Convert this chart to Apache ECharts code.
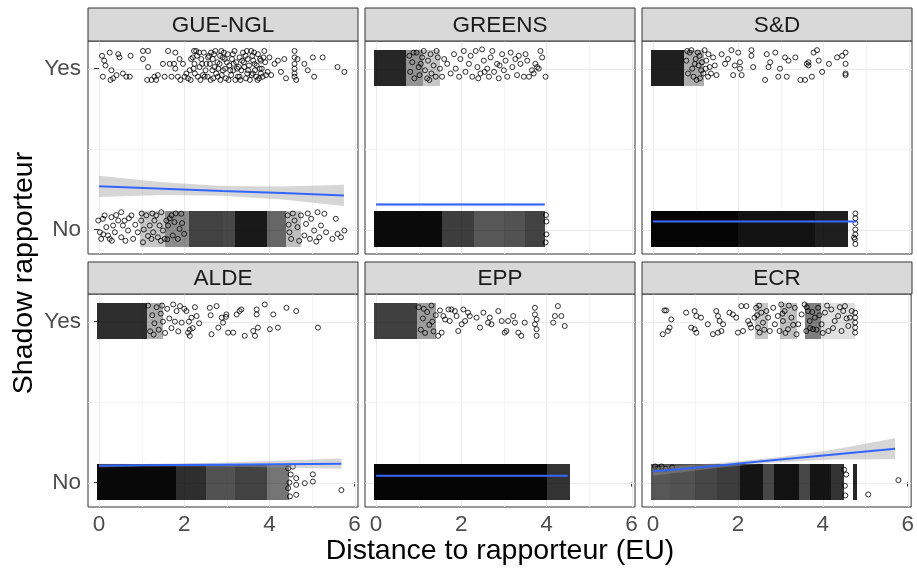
<!DOCTYPE html>
<html><head><meta charset="utf-8">
<script src="https://cdn.jsdelivr.net/npm/echarts@6/dist/echarts.min.js"></script>
<style>html,body{margin:0;padding:0;background:#fff}#c{width:917px;height:574px}</style>
</head><body><div id="c"></div>
<script>
// ---------------- DATA ----------------
const PANELS = ['GUE-NGL','GREENS','S&D','ALDE','EPP','ECR'];
const X_TICKS = [0,2,4,6];
const X_MINOR = [1,3,5];
const Y_TICK_VALUES = [0,1];
const Y_MINOR = [0.5];
const Y_TICK_LABELS = ['No','Yes'];
const X_TITLE = 'Distance to rapporteur (EU)';
const Y_TITLE = 'Shadow rapporteur';

// jittered points [distance, jittered outcome]
const gueYes = [[0.07,1.08],[0.12,1.05],[0.15,1.02],[0.09,0.95],[0.25,1.1],[0.29,0.99],[0.33,0.94],[0.27,0.93],[0.45,1.09],[0.48,1.07],[0.41,0.96],[0.56,0.97],[0.64,0.95],[0.72,0.95],[0.74,1.08],
[1.03,1.11],[1.15,1.11],[1.03,1.06],[1.15,1.01],[1.13,0.93],[1.23,0.93],[1.34,0.93],[1.30,0.95],[1.38,0.96],[1.50,1.03],[1.54,0.95],[1.62,1.11],[1.66,1.03],[1.70,0.95],[1.76,1.03],[1.79,1.0],[1.79,1.1],[1.85,0.95],[1.89,1.06],[1.91,0.93],[1.97,1.03],[2.01,0.95],[2.05,0.97],[2.09,0.94],[2.13,0.99],[2.16,1.06],[2.20,1.07],[2.23,1.11],[2.24,1.03],[2.28,1.11],[2.32,0.95],[2.36,1.01],[2.40,1.06],[2.44,0.96],[2.52,1.03],[2.55,0.95],[2.63,1.1],[2.67,1.06],[2.71,1.01],[2.75,0.97],[2.79,0.95],[2.83,1.03],[2.87,1.11],[2.91,0.99],[2.95,1.06],[2.98,0.94],[3.02,1.09],[3.06,1.02],[3.10,0.96],[3.18,1.11],[3.22,1.04],[3.26,0.95],[3.30,1.07],[3.34,0.99],[3.38,1.1],[3.41,1.01],[3.45,0.94],[3.49,1.06],[3.57,1.11],[3.61,0.97],[3.65,1.03],[3.69,0.95],[3.73,1.09],[3.77,1.0],[3.80,1.05],[3.84,0.95],[3.88,1.11],[3.96,0.98],[4.0,1.07],[4.04,0.96],[4.12,1.03],[4.20,1.05],[4.27,0.98],[4.35,1.06],[4.39,0.94],[4.59,1.11],[4.59,1.07],[4.59,1.03],[4.59,1.0],[4.59,0.97],[4.59,0.95],[4.63,0.93],[4.66,1.06],[4.82,1.03],[4.90,0.99],[5.02,1.07],[5.05,0.95],[5.25,1.07],[5.60,1.01],[5.76,0.98],
[2.15,0.93],[2.22,1.0],[2.3,1.08],[2.38,0.93],[2.46,1.1],[2.5,0.99],[2.6,1.03],[2.62,0.93],[2.7,1.09],[2.78,1.04],[2.85,0.93],[2.9,1.07],[2.96,1.0],[3.04,0.93],[3.12,1.06],[3.15,0.99],[3.2,0.93],[3.28,1.01],[3.32,0.93],[3.36,1.05],[3.44,1.08],[3.5,0.99],[3.54,0.93],[3.6,1.08],[3.66,0.99],[3.72,0.93],[3.78,1.06],[3.82,1.0],[3.9,1.04],[3.62,1.05],
[2.25,0.97],[2.35,1.1],[2.42,1.03],[2.48,0.95],[2.58,1.08],[2.66,0.99],[2.73,1.11],[2.8,1.0],[2.88,0.96],[2.93,1.1],[3.0,1.04],[3.08,0.99],[3.14,1.09],[3.24,1.0],[3.3,0.95],[3.4,1.04],[3.47,1.11],[3.52,1.02],[3.58,0.96],[3.64,1.1],[3.7,1.02],[3.76,0.94],[3.86,1.07],[3.92,0.96],[2.56,1.07],[2.84,1.08],[3.16,1.03],[3.48,0.97],[3.8,0.97],[2.68,0.94]];
const gueNo = [[-0.02,0.056],[0.02,-0.017],[0.05,-0.058],[0.09,0.067],[0.13,0.088],[0.17,0.015],[0.21,-0.037],[0.25,-0.058],[0.29,0.077],[0.33,0.025],[0.37,-0.017],[0.45,0.056],[0.52,0.108],[0.52,-0.048],[0.56,0.025],[0.6,0.056],[0.68,-0.006],[0.76,0.088],[0.8,-0.058],[0.91,-0.017],[0.99,0.056],[1.03,-0.079],[1.11,0.088],[1.19,0.025],[1.23,-0.058],[1.27,-0.017],[1.3,0.056],[1.34,0.088],[1.38,-0.048],[1.42,0.025],[1.46,0.108],[1.5,-0.006],[1.54,-0.058],[1.58,0.056],[1.62,0.025],[1.7,0.088],[1.73,-0.037],[1.77,0.046],[1.85,-0.058],[1.89,0.004],[1.93,0.098],[2.0,-0.027],
[0.1,-0.03],[0.4,0.09],[0.62,-0.07],[0.85,0.03],[1.05,0.0],[1.15,-0.04],[1.25,0.1],[1.45,-0.07],[1.6,-0.06],[1.66,0.07],[1.8,0.1],[1.95,0.04],[1.0,0.1],[0.7,0.07],[0.3,-0.07],
[4.43,0.088],[4.47,-0.017],[4.51,-0.058],[4.59,0.056],[4.66,0.015],[4.74,0.088],[4.82,-0.037],[4.86,0.035],[4.95,-0.058],[4.98,0.067],[5.05,-0.006],[5.13,0.108],[5.17,-0.048],[5.21,0.025],[5.29,0.098],[5.33,-0.017],[5.48,-0.058],[5.56,0.067],[5.6,-0.027],[5.68,-0.048],[5.76,-0.006],[4.45,0.03],[4.55,0.1],[4.7,-0.07],[4.9,0.1],[5.1,-0.075]];
const greensYes = [[1.67,1.03],[1.75,0.97],[1.83,1.09],[1.87,1.0],[1.95,0.95],[1.98,1.06],[2.06,1.11],[2.1,0.98],[2.18,1.03],[2.22,1.08],[2.26,0.95],[2.34,1.11],[2.38,1.01],[2.45,0.97],[2.49,1.12],[2.53,1.05],[2.61,1.0],[2.65,0.95],[2.69,1.07],[2.73,1.11],[2.77,0.98],[2.84,1.03],[2.88,0.94],[2.96,1.09],[3.0,0.99],[3.04,1.05],[3.08,0.95],[3.16,1.1],[3.2,1.01],[3.27,1.06],[3.31,0.96],[3.39,1.03],[3.47,0.95],[3.51,1.09],[3.55,1.05],[3.59,0.95],[3.66,0.99],[3.74,1.03],[3.78,1.01],[3.82,1.0],[3.86,1.11],[3.9,1.07],[3.98,0.95],[2.4,0.94],[2.55,0.98],[2.9,1.02],[3.35,1.08],[3.7,0.97],
[0.78,1.08],[0.8,0.98],[0.85,1.04],[0.9,0.94],[0.95,1.1],[1.0,1.01],[1.02,0.96],[1.08,1.07],[1.12,1.11],[1.15,0.99],[1.2,0.94],[1.22,1.05],[1.28,1.09],[1.3,0.97],[1.35,1.02],[1.4,0.95],[1.45,1.07],[1.5,1.0],[1.55,0.95],[1.6,1.06],[1.25,0.93],[1.05,1.03],[0.88,1.1],[1.42,1.11]];
const greensNo = [[4.0,0.05],[4.0,-0.03],[3.99,0.09],[3.98,-0.08]];
const sdYes = [[0.9,1.115],[0.98,1.03],[1.02,0.93],[1.09,1.08],[1.13,0.99],[1.21,1.115],[1.25,1.05],[1.29,0.95],[1.33,1.01],[1.41,1.07],[1.49,0.96],[1.61,1.09],[1.69,1.03],[1.76,1.06],[1.84,1.115],[1.88,0.96],[1.92,1.02],[2.0,1.1],[2.04,1.04],[2.08,0.96],[2.31,1.115],[2.31,1.08],[2.35,1.01],[2.63,0.93],[2.67,1.09],[2.71,1.01],[2.75,1.04],[2.87,1.1],[2.94,0.95],[2.98,1.0],[3.10,1.07],[3.14,0.95],[3.18,1.05],[3.34,1.07],[3.46,0.93],[3.57,0.93],[3.61,1.03],[3.65,1.04],[3.73,0.95],[3.77,1.1],[3.85,1.115],[3.89,1.05],[3.97,0.98],[4.13,1.03],[4.32,1.07],[4.44,1.08],[4.52,1.1],[4.52,1.03],[4.52,0.97],[4.52,0.96],[3.65,1.02],[2.04,1.0],
[0.78,1.05],[0.82,0.97],[0.86,1.1],[0.92,1.0],[0.95,0.95],[1.0,1.06],[1.05,1.1],[1.1,0.94],[1.15,1.04],[1.18,0.97],[1.24,1.0],[1.3,1.09],[1.36,0.97],[1.45,1.02],[0.8,1.11],[1.07,1.02]];
const sdNo = [[4.75,0.1],[4.75,0.07],[4.75,0.04],[4.75,0.0],[4.75,-0.03],[4.74,-0.06],[4.75,-0.09],[4.72,-0.05]];
const aldeYes = [[1.74,1.107],[1.82,1.066],[1.9,1.097],[1.94,0.994],[2.05,1.066],[2.09,0.932],[2.13,0.912],[2.17,1.025],[2.29,1.035],[2.6,1.086],[2.64,0.922],[2.76,1.097],[2.8,0.963],[2.88,1.025],[2.91,0.994],[2.99,1.045],[3.03,0.932],[3.15,0.932],[3.23,1.045],[3.3,1.066],[3.34,1.076],[3.42,0.912],[3.62,0.942],[3.66,0.912],[3.7,1.076],[3.7,1.045],[3.73,0.963],[3.89,1.107],[4.01,0.953],[4.09,1.045],[4.2,0.963],[4.4,1.086],[4.63,1.066],[5.14,0.963],[2.11,1.0],[2.13,0.95],[2.62,1.04],[2.98,1.03],
[1.15,1.1],[1.2,0.94],[1.25,1.04],[1.3,0.99],[1.35,1.09],[1.4,0.95],[1.45,1.05],[1.5,1.0],[1.55,0.93],[1.6,1.08],[1.65,1.02],[1.7,0.96],[1.78,1.0],[1.86,0.94],[2.0,1.08],[2.2,0.96],[2.25,1.09],[2.35,0.99],[1.28,0.92],[1.48,1.1]];
const aldeNo = [[4.55,0.099],[4.63,0.027],[4.63,-0.014],[4.63,-0.076],[4.83,-0.004],[5.02,0.006],[5.02,0.051],[5.69,-0.047],[4.44,0.088],[4.44,-0.035],[4.48,-0.086],[4.5,0.05],[4.47,0.0]];
const eppYes = [[1.46,0.912],[1.54,0.932],[1.58,1.035],[1.62,1.014],[1.7,1.076],[1.73,1.004],[1.77,1.076],[1.85,1.066],[1.89,1.035],[1.93,0.942],[2.01,0.984],[2.05,1.076],[2.09,1.004],[2.16,1.056],[2.2,1.035],[2.36,1.025],[2.44,0.963],[2.52,1.056],[2.63,0.994],[2.67,1.025],[2.71,0.984],[2.87,1.066],[2.95,1.004],[3.02,0.932],[3.06,0.942],[3.1,1.004],[3.22,1.035],[3.26,0.994],[3.34,0.932],[3.41,0.912],[3.49,0.994],[3.73,1.086],[3.73,1.045],[3.73,0.984],[3.77,0.953],[3.77,0.912],[3.77,1.014],[4.16,0.994],[4.2,1.035],[4.27,1.097],[4.35,1.035],[4.43,0.973],
[1.0,1.09],[1.05,0.95],[1.1,1.02],[1.15,0.93],[1.2,1.06],[1.25,0.98],[1.3,1.1],[1.35,0.94],[1.4,1.04],[1.12,1.08],[1.32,1.0],[1.5,1.07]];
const eppNo = [];
const ecrYes = [[0.23,0.922],[0.27,1.07],[0.31,1.07],[0.35,0.942],[0.39,0.963],[0.43,1.014],[0.78,1.056],[0.98,1.066],[1.02,1.035],[0.9,0.963],[0.98,0.953],[1.02,0.932],[1.13,1.025],[1.29,0.984],[1.41,0.922],[1.53,0.932],[1.61,0.942],[1.49,1.066],[1.53,1.035],[1.57,1.004],[1.65,0.984],[1.8,1.056],[1.88,1.045],[1.96,1.025],[2.0,0.932],[2.08,1.097],[2.12,0.942],[2.2,1.097],[2.24,1.004],[2.28,0.984],[2.31,0.963],[2.39,1.025],[2.43,1.086],[2.47,0.963],[2.51,0.932],[2.55,1.056],[2.59,0.994],[2.67,1.066],[2.71,1.025],[2.75,0.942],[2.83,1.086],[2.87,0.984],[2.94,1.035],[2.98,0.942],[3.02,1.107],[3.06,1.004],[3.1,1.066],[3.18,0.953],[3.26,1.025],[3.34,1.086],[3.38,0.922],[3.42,0.984],[3.5,1.045],[3.57,1.107],[3.61,0.942],[3.65,1.066],[3.69,1.004],[3.77,0.953],[3.81,1.025],[3.89,1.086],[3.97,0.984],[4.05,1.056],[4.13,0.942],[4.2,1.076],[4.28,1.004],[4.36,1.035],[4.44,0.942],[4.48,1.066],[4.52,1.097],[4.6,0.973],[4.64,1.025],[4.68,1.066],[4.76,1.056],[4.76,1.025],[4.76,0.994],[4.76,0.963],[4.76,0.932],
[2.45,1.04],[2.5,1.1],[2.62,0.95],[3.05,1.05],[3.12,0.93],[3.2,1.1],[3.3,0.98],[3.62,1.09],[3.7,0.96],[3.75,1.06],[3.85,0.95],[3.92,1.04],[4.0,0.93],[4.1,1.1],[4.24,0.96],[4.4,1.09],[4.56,1.02]];
const ecrNo = [[5.07,-0.074],[5.78,0.015],[0.05,0.1],[0.12,0.09],[0.2,0.1],[0.3,0.085],[0.45,0.095],[4.5,0.08],[4.52,-0.02],[4.55,0.05],[4.53,-0.08]];

// dense regions of overlapping points: [from, to, share of the band covered in black]
const gueYesDense = [];
const gueNoDense = [[0.95,1.55,0.22],[1.55,2.1,0.45],[2.1,2.9,0.74],[2.9,3.2,0.72],[3.2,3.95,0.9],[3.95,4.4,0.6],[4.4,4.75,0.25]];
const greensYesDense = [[-0.05,0.7,0.85],[0.7,1.1,0.42],[1.1,1.5,0.22]];
const greensNoDense = [[-0.05,1.55,0.96],[1.55,2.3,0.76],[2.3,3.0,0.66],[3.0,3.5,0.68],[3.5,3.97,0.74]];
const sdYesDense = [[-0.05,0.72,0.88],[0.72,1.2,0.32]];
const sdNoDense = [[-0.04,2.0,0.98],[2.0,3.8,0.93],[3.8,4.57,0.88]];
const aldeYesDense = [[-0.05,1.12,0.82],[1.12,1.5,0.32]];
const aldeNoDense = [[-0.05,1.8,0.97],[1.8,2.5,0.82],[2.5,3.2,0.68],[3.2,3.95,0.74],[3.95,4.45,0.54]];
const eppYesDense = [[-0.06,0.95,0.75],[0.95,1.4,0.38]];
const eppNoDense = [[-0.06,4.02,0.98],[4.02,4.55,0.8]];
const ecrYesDense = [[2.4,2.7,0.22],[3.0,3.4,0.25],[3.58,3.95,0.5],[3.95,4.75,0.12]];
const ecrNoDense = [[-0.04,0.4,0.66],[0.4,1.0,0.68],[1.0,1.5,0.72],[1.5,2.05,0.76],[2.05,2.6,0.92],[2.6,2.85,0.72],[2.85,3.45,0.93],[3.45,3.7,0.72],[3.7,4.2,0.92],[4.2,4.5,0.8],[4.72,4.8,0.85]];

// linear smooth fits: x, fitted value, lower and upper confidence bound
const gueFitX = [0,1.5,2.9,4.3,5.75], gueFit = [0.269,0.254,0.24,0.227,0.212], gueLo = [0.203,0.214,0.21,0.187,0.147], gueHi = [0.335,0.294,0.27,0.267,0.278];
const greensFitX = [0,3.96], greensFit = [0.156,0.156], greensLo = [0.149,0.149], greensHi = [0.163,0.163];
const sdFitX = [0,4.78], sdFit = [0.05,0.05], sdLo = [0.046,0.046], sdHi = [0.054,0.054];
const aldeFitX = [0,1,2.8,5.69], aldeFit = [0.105,0.107,0.111,0.117], aldeLo = [0.093,0.099,0.099,0.085], aldeHi = [0.117,0.115,0.123,0.149];
const eppFitX = [0,4.5], eppFit = [0.043,0.043], eppLo = [0.039,0.039], eppHi = [0.047,0.047];
const ecrFitX = [0,1.5,2.8,4.2,5.7], ecrFit = [0.068,0.105,0.138,0.173,0.21], ecrLo = [0.043,0.09,0.123,0.143,0.145], ecrHi = [0.093,0.12,0.153,0.203,0.275];

// ---------------- BUILD ----------------
const PANEL_DATA = [
  {yes:gueYes, no:gueNo, yesD:gueYesDense, noD:gueNoDense, fx:gueFitX, f:gueFit, lo:gueLo, hi:gueHi},
  {yes:greensYes, no:greensNo, yesD:greensYesDense, noD:greensNoDense, fx:greensFitX, f:greensFit, lo:greensLo, hi:greensHi},
  {yes:sdYes, no:sdNo, yesD:sdYesDense, noD:sdNoDense, fx:sdFitX, f:sdFit, lo:sdLo, hi:sdHi},
  {yes:aldeYes, no:aldeNo, yesD:aldeYesDense, noD:aldeNoDense, fx:aldeFitX, f:aldeFit, lo:aldeLo, hi:aldeHi},
  {yes:eppYes, no:eppNo, yesD:eppYesDense, noD:eppNoDense, fx:eppFitX, f:eppFit, lo:eppLo, hi:eppHi},
  {yes:ecrYes, no:ecrNo, yesD:ecrYesDense, noD:ecrNoDense, fx:ecrFitX, f:ecrFit, lo:ecrLo, hi:ecrHi}
];

const FONT = '"Liberation Sans", Arial, sans-serif';
const COL_LEFT = [88, 365, 642];
const ROW_TOP = [41, 294];
const STRIP_TOP = [8, 262];
const PW = 270, PH = 213;
const XMIN = -0.26, XMAX = 6.08, YMIN = -0.152, YMAX = 1.172;

// grid line definitions: [value, 0 = vertical (x) / 1 = horizontal (y), 1 = major / 0 = minor]
const GRID_LINES = X_TICKS.map(v => [v, 0, 1]).concat(X_MINOR.map(v => [v, 0, 0]),
  Y_TICK_VALUES.map(v => [v, 1, 1]), Y_MINOR.map(v => [v, 1, 0]));

const grids = [], xAxes = [], yAxes = [], series = [], graphics = [];

PANELS.forEach((name, i) => {
  const col = i % 3, row = Math.floor(i / 3);
  const left = COL_LEFT[col], top = ROW_TOP[row];
  grids.push({left: left, top: top, width: PW, height: PH, show: true, backgroundColor: '#fff', borderColor: '#333333', borderWidth: 1, containLabel: false});
  const bottom = row === 1, first = col === 0;
  xAxes.push({type: 'value', gridIndex: i, min: XMIN, max: XMAX,
    axisLine: {show: false}, splitLine: {show: false},
    axisTick: {show: bottom, length: 4, lineStyle: {color: '#333333', width: 1}, customValues: X_TICKS},
    axisLabel: {show: bottom, customValues: X_TICKS, fontSize: 22.5, color: '#4D4D4D', fontFamily: FONT, margin: 6}});
  yAxes.push({type: 'value', gridIndex: i, min: YMIN, max: YMAX,
    axisLine: {show: false}, splitLine: {show: false},
    axisTick: {show: first, length: 5, lineStyle: {color: '#333333', width: 1}, customValues: Y_TICK_VALUES},
    axisLabel: {show: first, customValues: Y_TICK_VALUES, fontSize: 22.5, color: '#4D4D4D', fontFamily: FONT, margin: 7,
      formatter: v => Y_TICK_LABELS[Y_TICK_VALUES.indexOf(Math.round(v))]}});

  // grid lines (behind everything)
  series.push({type: 'custom', xAxisIndex: i, yAxisIndex: i, data: GRID_LINES, z: 1, silent: true,
    encode: {x: 0, y: 0},
    renderItem: (params, api) => {
      const cs = params.coordSys;
      const v = api.value(0), vertical = api.value(1) === 0, major = api.value(2) === 1;
      let shape;
      if (vertical) {
        const px = Math.round(api.coord([v, 0])[0]) + 0.5;
        if (px > cs.x + cs.width - 1) return null;
        shape = {x1: px, y1: cs.y, x2: px, y2: cs.y + cs.height};
      } else {
        const py = Math.round(api.coord([0, v])[1]) + 0.5;
        shape = {x1: cs.x, y1: py, x2: cs.x + cs.width, y2: py};
      }
      return {type: 'line', shape: shape, style: {stroke: major ? '#EBEBEB' : '#F2F2F2', lineWidth: major ? 1.1 : 0.8}};
    }});

  const P = PANEL_DATA[i];
  // dense regions
  const dense = P.yesD.map(d => [d[0], d[1], d[2], 1]).concat(P.noD.map(d => [d[0], d[1], d[2], 0]));
  series.push({type: 'custom', xAxisIndex: i, yAxisIndex: i, data: dense, z: 2, silent: true, clip: true,
    encode: {x: [0, 1], y: 3},
    renderItem: (params, api) => {
      const c = api.value(3);
      const p0 = api.coord([api.value(0), c + 0.116]);
      const p1 = api.coord([api.value(1), c - 0.108]);
      const x0 = Math.round(p0[0]), x1 = Math.round(p1[0]);
      const y0 = Math.round(p0[1]), y1 = Math.round(p1[1]);
      return {type: 'rect', shape: {x: x0, y: y0, width: x1 - x0, height: y1 - y0},
        style: {fill: '#000', opacity: api.value(2)}};
    }});
  // points
  series.push({type: 'scatter', xAxisIndex: i, yAxisIndex: i, data: P.yes.concat(P.no), z: 3, silent: true,
    symbol: 'circle', symbolSize: 5, clip: true,
    itemStyle: {color: 'rgba(0,0,0,0)', borderColor: '#000', borderWidth: 1}});
  // confidence band
  const band = P.fx.map((x, k) => [x, P.lo[k], P.hi[k]]);
  series.push({type: 'custom', xAxisIndex: i, yAxisIndex: i, data: band, z: 4, silent: true,
    encode: {x: 0, y: [1, 2]},
    renderItem: (params, api) => {
      if (params.dataIndex !== 0) return null;
      const up = band.map(b => api.coord([b[0], b[2]]));
      const dn = band.slice().reverse().map(b => api.coord([b[0], b[1]]));
      return {type: 'polygon', shape: {points: up.concat(dn)}, style: {fill: 'rgba(153,153,153,0.4)'}};
    }});
  // fitted line
  series.push({type: 'line', xAxisIndex: i, yAxisIndex: i, data: P.fx.map((x, k) => [x, P.f[k]]), z: 5, silent: true,
    showSymbol: false, symbol: 'none', lineStyle: {color: '#3366FF', width: 2}});

  // strip
  const stripTop = STRIP_TOP[row];
  graphics.push({type: 'rect', shape: {x: left, y: stripTop, width: PW, height: top - stripTop},
    style: {fill: '#D9D9D9', stroke: '#333333', lineWidth: 1}, z: 10, silent: true});
  graphics.push({type: 'text', x: left + PW / 2, y: stripTop + (top - stripTop) / 2 + 1, z: 11, silent: true,
    style: {text: name, font: '22.5px ' + FONT, fill: '#1A1A1A', align: 'center', verticalAlign: 'middle', textAlign: 'center', textVerticalAlign: 'middle'}});
});

graphics.push({type: 'text', x: 500, y: 551, silent: true,
  style: {text: X_TITLE, font: '28.5px ' + FONT, fill: '#000', align: 'center', verticalAlign: 'middle', textAlign: 'center', textVerticalAlign: 'middle'}});
graphics.push({type: 'text', x: 24, y: 273, rotation: Math.PI / 2, silent: true,
  style: {text: Y_TITLE, font: '28.5px ' + FONT, fill: '#000', align: 'center', verticalAlign: 'middle', textAlign: 'center', textVerticalAlign: 'middle'}});

const chart = echarts.init(document.getElementById('c'), null, {renderer: 'canvas'});
chart.setOption({animation: false, backgroundColor: '#fff', grid: grids, xAxis: xAxes, yAxis: yAxes, series: series, graphic: graphics});
</script>
</body></html>
